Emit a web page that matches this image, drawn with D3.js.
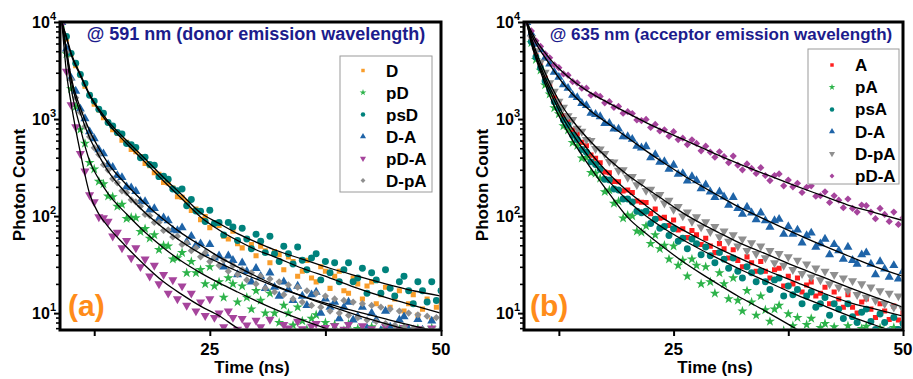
<!DOCTYPE html>
<html><head><meta charset="utf-8">
<script src="https://cdn.jsdelivr.net/npm/d3@7"></script>
<style>
body{margin:0;background:#fff}
svg{display:block}
text{font-family:"Liberation Sans",Arial,sans-serif;font-weight:bold}
</style>
</head><body>
<svg id="c" width="913" height="379"></svg>
<script>
// ---------- DATA ----------
const times = [9,9.5,10,10.5,11,11.5,12,12.5,13,13.5,14,14.5,15,15.5,16,16.5,17,17.5,18,18.5,19,19.5,20,20.5,21,21.5,22,22.5,23,23.5,24,24.5,25,25.5,26,26.5,27,27.5,28,28.5,29,29.5,30,30.5,31,31.5,32,32.5,33,33.5,34,34.5,35,35.5,36,36.5,37,37.5,38,38.5,39,39.5,40,40.5,41,41.5,42,42.5,43,43.5,44,44.5,45,45.5,46,46.5,47,47.5,48,48.5,49,49.5,50];
const fitTimes = [9,9.5,10,11,12,13,14,16,18,20,22,24,26,28,30,32,35,38,41,44,47,50];

const xTicks = [12.5,25,37.5,50];
const xTickLabels = ["","25","","50"];
const yMajor = [10,100,1000,10000];
const yMajorExp = ["1","2","3","4"];
const yMinor = [7,8,9,20,30,40,50,60,70,80,90,200,300,400,500,600,700,800,900,2000,3000,4000,5000,6000,7000,8000,9000];

// Panel (a): @ 591 nm
const catsA = ["D","pD","psD","D-A","pD-A","D-pA"];
const a_D = [10000,6700,4650,3550,2830,2180,1770,1420,1240,1030,
 915,775,710,605,575,485,460,410,348,330,
 280,270,222,218,195,158,156,140,114,118,
 92,99,76,86,80,62,58,70,52,47,
 58,51,39,49,44,33,43,40,28,38,
 34,24,27,35,23,21,30,27,18,24,
 27,17,16,23,20,14,19,21,12.5,15.5,
 18.5,11.5,14,17,10.5,12.5,15.5,9.5,11,14,
 8.5,11.5,13];
const a_pD = [9600,4700,2050,1340,780,560,355,305,228,214,
 160,158,126,132,94,97,96,69,74,59,
 64,45,50,49,36,37,42,26,34,26,
 28,20,30,19,21,14.5,23,20,13,19,
 14.5,11,17,13.5,10,16,10,8,12,10,
 7.5,11.5,8.3,6.8,8.8,9.6,5.5,8,6.2,7.6,
 5,6.6,7.7,5,6.9,5.5,4.5,7.2,5.8,4.2,
 7,5.2,4.5,6.8,7.1,5,3.9,6.9,5.3,4.4,
 7,4.6,5.5];
const a_psD = [10000,7100,4750,3760,2880,2320,1760,1530,1260,1150,
 920,850,725,700,560,545,510,400,405,340,
 335,255,258,240,190,182,190,128,148,113,
 112,88,115,84,86,64,86,77,56,75,
 58,46,65,55,42,62,41,34,49,41,
 32,48,35,28,37,41,22,34,26,33,
 21,28,33,21,23,29,16,26,22,16,
 28,18,15,21,24,17,12.5,21,17,13,
 21,13.5,17];
const a_DA = [9900,5300,2650,1940,1270,1010,740,630,485,440,
 340,318,262,250,200,196,180,142,141,116,
 120,94,96,90,72,71,76,54,62,50,
 52,41,51,37,39,30,39,35,25,33,
 27,21,29,24,18,26,18.5,15,21,17.5,
 13.5,19,15,12,15.5,16.5,10,14,11.5,13,
 8.8,11.5,13,8.5,9.2,11.5,7,10,8.5,6.6,
 10.5,7.2,6.2,8.5,9.2,6.8,5.2,8.6,6.7,5.3,
 8.3,5.6,6.8];
const a_pDA = [9500,3100,1400,830,440,290,165,140,98,96,
 88,62,68,47,56,37,47,30,36,24,
 31,20,25,16,22,14,19,12,16,10.5,
 13,9.4,14,9,10,7.2,10.5,9,6.8,8.8,
 7.5,6.2,8.4,7.2,6,8.6,6.4,5.5,7.6,7,
 5.8,8.2,6.9,5.6,7.3,7.8,5.2,7.1,6.3,7.4,
 5.4,6.8,7.6,5.7,6.2,7.4,5,6.9,6,5.3,
 7.3,5.6,5,6.8,7.1,5.9,4.8,6.9,6,5,
 7,5.2,6.1];
const a_DpA = [10000,4900,2550,1660,1170,840,655,505,430,338,
 298,242,220,182,174,147,140,126,104,101,
 86,86,71,72,61,62,51,53,44,47,
 38,42,34,38,31,35,27,31,25,28,
 22,26,20,24,18,22.5,16.5,21,15.5,19.5,
 14,18.5,13,17,12,16,11.5,15,10.5,14,
 10,13.5,9.5,13,9,12.5,8.5,12,8.2,11.5,
 7.8,11,7.5,10.5,7.2,10,7,9.6,6.8,9.3,
 6.6,9,6.5];
const fitA_D   = [10000,6800,4600,2800,1750,1220,900,560,360,230,150,98,72,56,45,38,29,23,18,14.5,12,10];
const fitA_pD  = [10000,4600,2100,800,370,240,170,105,68,47,34,26,20.5,16.5,13.4,11,8.5,6.7,5.3,4.2,3.4,2.8];
const fitA_psD = [10000,7000,4800,2900,1800,1270,950,600,390,250,165,108,84,66,54,45,36,29,24,20,17,15];
const fitA_DA  = [10000,5200,2700,1300,760,500,350,210,135,92,66,50,38,30,24,19.5,15,11.8,9.5,7.8,6.5,5.5];
const fitA_pDA = [10000,3000,1450,450,170,105,78,48,31,21,15.5,11.8,9.4,7,5.6,4.5,3.3,2.5,1.9,1.5,1.2,1];
const fitA_DpA = [10000,5000,2500,1150,640,420,290,170,108,75,54,41,33,27,22.5,19,15,12.3,10.3,8.7,7.4,6.4];

// Panel (b): @ 635 nm
const catsB = ["A","pA","psA","D-A","D-pA","pD-A"];
const b_A = [9800,6600,4550,3580,2650,2200,1660,1400,1080,950,
 770,700,575,530,425,395,355,285,280,228,
 226,182,186,175,143,139,138,106,118,95,
 97,80,91,72,74,60,71,64,51,59,
 49,42,52,46,37,45,35,30,38,33,
 27,34,27,23,28,29,19,24,20,23,
 16.5,19.5,21,15,16,18.5,12.5,16.5,14,11.5,
 15.5,11.5,10,13,14,11,9,12.5,10.5,8.6,
 11.8,8.5,10];
const b_pA = [9600,6100,4100,3180,2240,1800,1300,1130,850,770,
 570,530,395,400,280,275,245,178,185,135,
 142,95,102,100,70,68,79,52,64,46,
 50,36,49,31,35,24,36,31,20,30,
 21,16,26,20,14,23,13.5,10.5,17,13,
 9.5,15,10.8,8.2,11,12,6.6,9.8,7.4,9,
 5.8,7.6,8.8,6,7.1,7.8,5,7.2,6.2,4.8,
 7.4,5.6,4.6,6.9,7.3,5.5,4.4,7,5.8,4.8,
 7.1,5,6];
const b_psA = [10000,6250,4350,3380,2460,2000,1510,1290,975,870,
 680,615,485,455,362,340,305,240,236,190,
 186,150,150,140,112,108,112,84,93,75,
 78,63,74,55,59,46,58,52,40,48,
 39,33,42,36,29,37,27,23,30,26,
 21,27,21,17.5,22,23,15,19,15.5,17.5,
 12.5,15,16.5,11.5,12.5,14.5,9.5,12.5,11,8.8,
 12.5,9.2,8,10.2,11,8.2,6.8,9.8,8,6.6,
 9,6.8,7.8];
const b_DA = [9900,7600,5900,5200,4250,3700,3050,2700,2260,2080,
 1760,1670,1450,1380,1150,1120,1060,900,905,790,
 790,660,660,620,525,505,520,400,430,360,
 365,305,335,270,275,230,255,232,192,210,
 178,156,178,158,130,156,120,105,124,108,
 92,108,90,77,90,93,65,78,65,72,
 53,63,67,48,52,58,40,51,44,36,
 48,35,32,40,42,32,25,34,28.5,23.5,
 31,22.5,27];
const b_DpA = [10000,6900,5050,3850,3030,2360,1930,1520,1320,1080,
 985,800,745,615,600,495,490,440,365,360,
 295,300,250,255,210,225,183,188,158,166,
 136,145,117,125,100,110,88,98,77,87,
 69,78,61,70,55,64,49,58,44,53,
 41,49,37,44,33,41,31,38,28,35,
 25.5,32,23.5,29,22,27,20,25,18.5,23,
 17,21.5,15.5,20,14.5,18.5,13.5,17,12.5,16,
 11.5,15,11];
const b_pDA = [9900,8100,6400,5600,4700,4280,3620,3380,2920,2830,
 2430,2360,2080,2080,1760,1790,1710,1470,1510,1320,
 1350,1150,1190,1140,980,965,990,820,880,755,
 775,665,740,615,635,545,610,560,470,525,
 455,405,460,410,355,415,335,300,345,310,
 275,315,262,232,262,272,205,235,200,218,
 175,198,205,160,162,178,138,162,146,122,
 150,120,110,130,128,110,94,120,104,88,
 110,82,96];
const fitB_A   = [10000,6500,4600,2700,1700,1100,790,440,270,180,128,93,72,57,46,37.5,28,21.5,16.5,13,11,9.3];
const fitB_pA  = [10000,6000,4200,2300,1350,880,600,310,170,97,66,47,34,25.5,19.5,15,10.5,7.2,5,3.5,2.5,1.8];
const fitB_psA = [10000,6200,4400,2500,1550,1000,700,380,225,145,100,74,57,45,36,29,21.5,16,12.3,9.5,7.5,6];
const fitB_DA  = [10000,7500,6000,4300,3100,2300,1800,1200,880,640,470,350,265,205,160,126,92,68,51,39,30,24];
const fitB_DpA = [10000,7000,5000,3000,1900,1300,960,580,380,265,195,145,108,84,67,54,41,31,24,18.5,14.5,11.5];
const fitB_pDA = [10000,8000,6500,4800,3700,3000,2500,1850,1450,1150,920,750,620,510,420,350,270,210,165,130,108,90];

// ---------- STYLE ----------
const C = {orange:"#f99d2a", green:"#2db34a", teal:"#00827c", blue:"#1f64a8", purple:"#a6449c", gray:"#8f8f8f", red:"#ff1f1f"};
const SYM = {
  square:{type:d3.symbolSquare, size:26, rot:0, leg:12},
  star:{type:d3.symbolStar, size:32, rot:0, leg:14},
  circle:{type:d3.symbolCircle, size:38, rot:0, leg:16},
  up:{type:d3.symbolTriangle, size:36, rot:0, leg:16},
  down:{type:d3.symbolTriangle, size:36, rot:180, leg:16},
  diamond:{type:d3.symbolSquare, size:26, rot:45, leg:12}
};

const panels = [
 {id:"a", x0:60, x1:441, xDom:[8.8,50], title:"@ 591 nm (donor emission wavelength)", titleX:256, titleSize:18,
  tag:"(a)", tagX:68, yLabX:25, xLabX:252,
  legend:{x0:340,x1:432,y0:56,y1:192,symX:363,txtX:386,first:70.5,step:22},
  series:[
   {name:catsA[0], v:a_D, fit:fitA_D, color:C.orange, sym:"square"},
   {name:catsA[1], v:a_pD, fit:fitA_pD, color:C.green, sym:"star"},
   {name:catsA[2], v:a_psD, fit:fitA_psD, color:C.teal, sym:"circle"},
   {name:catsA[3], v:a_DA, fit:fitA_DA, color:C.blue, sym:"up"},
   {name:catsA[4], v:a_pDA, fit:fitA_pDA, color:C.purple, sym:"down"},
   {name:catsA[5], v:a_DpA, fit:fitA_DpA, color:C.gray, sym:"diamond"}
  ]},
 {id:"b", x0:524, x1:903, xDom:[8.7,50], title:"@ 635 nm (acceptor emission wavelength)", titleX:721, titleSize:17,
  tag:"(b)", tagX:530, yLabX:488, xLabX:715,
  legend:{x0:808,x1:899,y0:49,y1:184,symX:832,txtX:855,first:65,step:22.2},
  series:[
   {name:catsB[0], v:b_A, fit:fitB_A, color:C.red, sym:"square"},
   {name:catsB[1], v:b_pA, fit:fitB_pA, color:C.green, sym:"star"},
   {name:catsB[2], v:b_psA, fit:fitB_psA, color:C.teal, sym:"circle"},
   {name:catsB[3], v:b_DA, fit:fitB_DA, color:C.blue, sym:"up"},
   {name:catsB[4], v:b_DpA, fit:fitB_DpA, color:C.gray, sym:"down"},
   {name:catsB[5], v:b_pDA, fit:fitB_pDA, color:C.purple, sym:"diamond"}
  ]}
];

const svg = d3.select("#c");
const defs = svg.append("defs");
const Y0 = 22, Y1 = 330;

panels.forEach(p => {
  const x = d3.scaleLinear().domain(p.xDom).range([p.x0, p.x1]);
  const y = d3.scaleLog().domain([6.7, 10000]).range([Y1, Y0]);
  const g = svg.append("g");

  defs.append("clipPath").attr("id", "clip" + p.id).append("rect")
    .attr("x", p.x0 + 1.5).attr("y", Y0 + 1.5)
    .attr("width", p.x1 - p.x0 - 3).attr("height", Y1 - Y0 - 3);
  const plot = g.append("g").attr("clip-path", `url(#clip${p.id})`);

  // scatter
  p.series.forEach(s => {
    const st = SYM[s.sym];
    const sym = d3.symbol().type(st.type).size(st.size);
    const pts = times.map((t, i) => [t, s.v[i]]).filter(d => d[1] != null);
    plot.append("g").selectAll("path").data(pts).join("path")
      .attr("d", sym).attr("fill", s.color)
      .attr("transform", d => `translate(${x(d[0]).toFixed(2)},${y(d[1]).toFixed(2)}) rotate(${st.rot})`);
  });

  // fit lines
  const line = d3.line().x(d => x(d[0])).y(d => y(d[1])).curve(d3.curveMonotoneX);
  p.series.forEach(s => {
    plot.append("path").datum(fitTimes.map((t, i) => [t, s.fit[i]]))
      .attr("d", line).attr("fill", "none").attr("stroke", "#000").attr("stroke-width", 1.3);
  });

  // y axis ticks
  g.append("g").attr("transform", `translate(${p.x0},0)`)
    .call(d3.axisLeft(y).tickValues(yMinor).tickSize(4).tickFormat(""))
    .call(a => { a.select(".domain").remove(); a.selectAll("line").attr("stroke-width", 1.6); });
  g.append("g").attr("transform", `translate(${p.x0},0)`)
    .call(d3.axisLeft(y).tickValues(yMajor).tickSize(6).tickFormat(""))
    .call(a => { a.select(".domain").remove(); a.selectAll("line").attr("stroke-width", 2); });

  // x axis ticks
  g.append("g").attr("transform", `translate(0,${Y1})`)
    .call(d3.axisBottom(x).tickValues(xTicks).tickSize(6).tickFormat(""))
    .call(a => { a.select(".domain").remove(); a.selectAll("line").attr("stroke-width", 2); });

  // frame
  g.append("rect").attr("x", p.x0).attr("y", Y0).attr("width", p.x1 - p.x0).attr("height", Y1 - Y0)
    .attr("fill", "none").attr("stroke", "#000").attr("stroke-width", 3);

  // y tick labels
  yMajor.forEach((v, i) => {
    const t = g.append("text").attr("x", p.x0 - 4).attr("y", y(v) + 6).attr("text-anchor", "end")
      .attr("font-size", 16).attr("fill", "#000");
    t.append("tspan").text("10");
    t.append("tspan").attr("font-size", 11).attr("dy", -8).text(yMajorExp[i]);
  });

  // x tick labels
  xTicks.forEach((v, i) => {
    if (!xTickLabels[i]) return;
    g.append("text").attr("x", x(v)).attr("y", 355).attr("text-anchor", "middle")
      .attr("font-size", 17).attr("fill", "#000").text(xTickLabels[i]);
  });

  // axis titles
  g.append("text").attr("transform", `translate(${p.yLabX},185) rotate(-90)`).attr("text-anchor", "middle")
    .attr("font-size", 17).attr("fill", "#000").text("Photon Count");
  g.append("text").attr("x", p.xLabX).attr("y", 373).attr("text-anchor", "middle")
    .attr("font-size", 17).attr("fill", "#000").text("Time (ns)");

  // title
  g.append("text").attr("x", p.titleX).attr("y", 40).attr("text-anchor", "middle")
    .attr("font-size", p.titleSize).attr("fill", "#1c1c8c").text(p.title);

  // panel tag
  g.append("text").attr("x", p.tagX).attr("y", 316).attr("font-size", 30).attr("fill", "#ff8c1a").text(p.tag);

  // legend
  const L = p.legend;
  g.append("rect").attr("x", L.x0).attr("y", L.y0).attr("width", L.x1 - L.x0).attr("height", L.y1 - L.y0)
    .attr("fill", "#fff").attr("stroke", "#9a9a9a").attr("stroke-width", 1);
  p.series.forEach((s, i) => {
    const st = SYM[s.sym];
    const cy = L.first + i * L.step;
    g.append("path").attr("d", d3.symbol().type(st.type).size(st.leg)())
      .attr("fill", s.color).attr("transform", `translate(${L.symX},${cy}) rotate(${st.rot})`);
    g.append("text").attr("x", L.txtX).attr("y", cy + 6).attr("font-size", 17).attr("fill", "#000").text(s.name);
  });
});
</script>
</body></html>
